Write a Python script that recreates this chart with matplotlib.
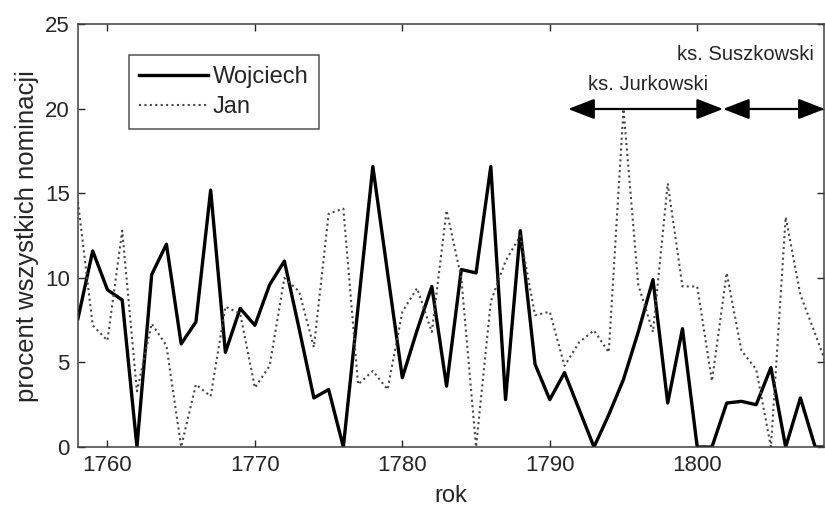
import numpy as np
import matplotlib
matplotlib.use('Agg')
import matplotlib.pyplot as plt

plt.rcParams['font.family'] = ['Liberation Sans', 'DejaVu Sans']

# lata i udzial imion (procent wszystkich nominacji)
years = np.arange(1758, 1810)
wojciech = [7.6, 11.6, 9.3, 8.7, 0.0, 10.2, 12.0, 6.1, 7.4, 15.2,
            5.6, 8.2, 7.2, 9.6, 11.0, 7.0, 2.9, 3.4, 0.0, 8.3,
            16.6, 10.3, 4.1, 6.9, 9.5, 3.6, 10.5, 10.3, 16.6, 2.8,
            12.8, 4.9, 2.8, 4.4, 2.2, 0.0, 1.9, 4.0, 6.8, 9.9,
            2.6, 7.0, 0.0, 0.0, 2.6, 2.7, 2.5, 4.7, 0.0, 2.9,
            0.0, 0.0]
jan = [14.5, 7.2, 6.3, 12.8, 3.3, 7.3, 6.0, 0.0, 3.7, 3.0,
       8.3, 7.9, 3.5, 4.8, 10.0, 9.2, 5.9, 13.8, 14.1, 3.7,
       4.5, 3.4, 8.0, 9.4, 6.8, 14.0, 10.0, 0.0, 8.6, 11.0,
       12.5, 7.8, 8.0, 4.8, 6.2, 6.9, 5.6, 20.0, 9.6, 6.8,
       15.6, 9.5, 9.5, 3.9, 10.3, 5.7, 4.6, 0.0, 13.6, 9.0,
       6.7, 4.3]

# okresy proboszczow
jurkowski = (1791.25, 1801.75)
suszkowski = (1801.75, 1808.65)
arrow_y = 20

fig = plt.figure(figsize=(8.25, 5.05), dpi=100)
ax = fig.add_axes([0.0945, 0.1149, 0.9043, 0.8366])

ax.plot(years, wojciech, color='black', lw=2.4, label='Wojciech')
ax.plot(years, jan, color='0.28', lw=1.5, ls=(0, (1, 1.6)), label='Jan')

ax.set_xlim(1758, 1808.6)
ax.set_ylim(0, 25)
ax.set_xticks([1760, 1770, 1780, 1790, 1800])
ax.set_yticks([0, 5, 10, 15, 20, 25])
ax.tick_params(direction='in', length=5, width=1, top=True, right=True,
               labelsize=16, colors='0.15', pad=6)
for s in ax.spines.values():
    s.set_linewidth(1.1)
    s.set_color('0.25')

ax.set_xlabel('rok', fontsize=17, color='0.15', labelpad=6)
ax.set_ylabel('procent wszystkich nominacji', fontsize=18.5, color='0.15', labelpad=4)

leg = ax.legend(loc='upper left', bbox_to_anchor=(0.068, 0.927), borderaxespad=0,
                fancybox=False, edgecolor='0.15', fontsize=17, handlelength=2.9,
                handletextpad=0.2, borderpad=0.45, labelspacing=0.35)
leg.get_frame().set_linewidth(1.1)
for t in leg.get_texts():
    t.set_color('0.15')

for a, b in (jurkowski, suszkowski):
    ax.annotate('', xy=(a, arrow_y), xytext=(b, arrow_y), annotation_clip=False,
                arrowprops=dict(arrowstyle='<|-|>,head_length=0.9,head_width=0.35',
                                color='black', lw=1.6, shrinkA=0, shrinkB=0,
                                mutation_scale=18))

ax.text(1796.7, 21.45, 'ks. Jurkowski', fontsize=14.5, ha='center', va='center', color='0.15')
ax.text(1803.3, 23.25, 'ks. Suszkowski', fontsize=14.5, ha='center', va='center', color='0.15')

fig.savefig('out.png', dpi=100)
